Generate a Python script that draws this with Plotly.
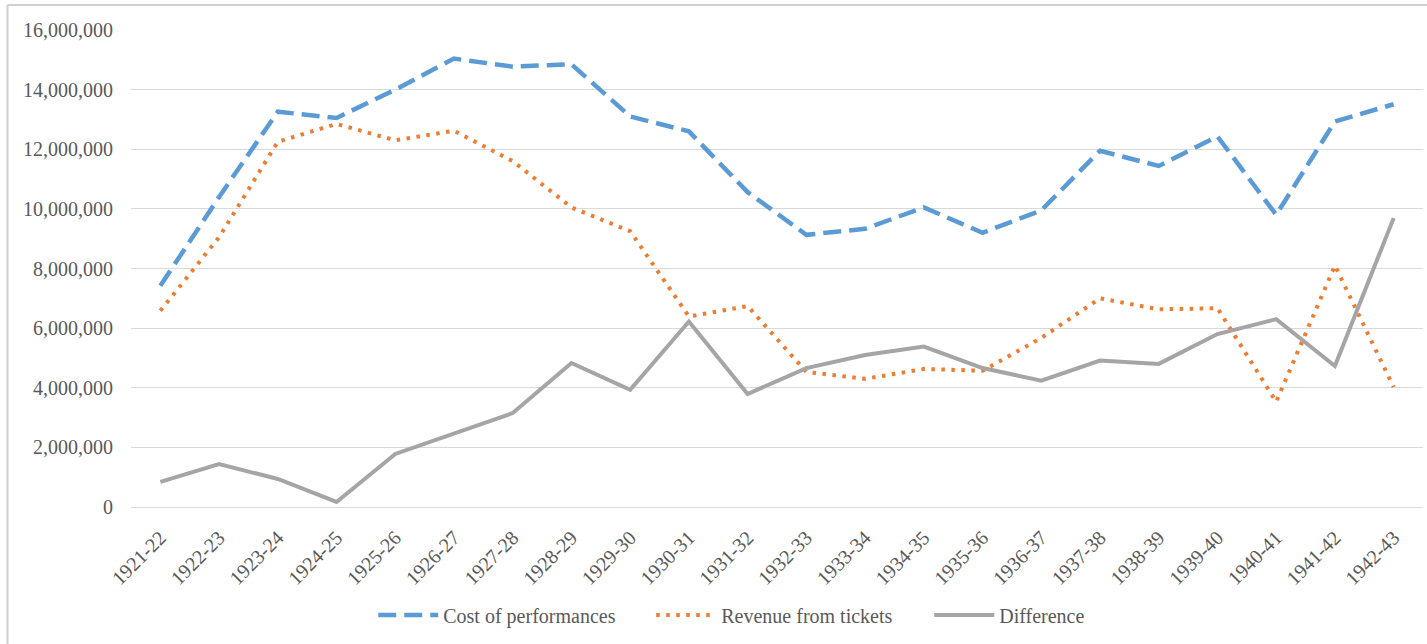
import plotly.graph_objects as go

seasons = ["1921-22", "1922-23", "1923-24", "1924-25", "1925-26", "1926-27",
           "1927-28", "1928-29", "1929-30", "1930-31", "1931-32", "1932-33",
           "1933-34", "1934-35", "1935-36", "1936-37", "1937-38", "1938-39",
           "1939-40", "1940-41", "1941-42", "1942-43"]

cost = [7420000, 10400000, 13260000, 13050000, 14000000, 15040000,
        14770000, 14850000, 13100000, 12600000, 10560000, 9130000,
        9330000, 10050000, 9200000, 9950000, 11950000, 11440000,
        12430000, 9800000, 12930000, 13510000]

revenue = [6580000, 9050000, 12250000, 12850000, 12300000, 12620000,
           11600000, 10050000, 9250000, 6390000, 6740000, 4530000,
           4300000, 4630000, 4570000, 5670000, 7000000, 6630000,
           6670000, 3530000, 8100000, 4020000]

difference = [840000, 1440000, 940000, 170000, 1780000, 2480000,
              3150000, 4830000, 3930000, 6220000, 3790000, 4660000,
              5100000, 5380000, 4660000, 4240000, 4910000, 4800000,
              5800000, 6300000, 4730000, 9690000]

y_ticks = [0, 2000000, 4000000, 6000000, 8000000, 10000000, 12000000, 14000000, 16000000]

FONT = "Liberation Serif"
TXT = "#595959"

fig = go.Figure()
fig.add_trace(go.Scatter(x=seasons, y=cost, mode="lines", name="Cost of performances",
                         line=dict(color="#5b9bd5", width=4.5, dash="18px,8px")))
fig.add_trace(go.Scatter(x=seasons, y=revenue, mode="lines", name="Revenue from tickets",
                         line=dict(color="#ed7d31", width=4, dash="3.5px,6.5px")))
fig.add_trace(go.Scatter(x=seasons, y=difference, mode="lines", name="Difference",
                         line=dict(color="#a5a5a5", width=4)))

L, R, T, B = 130.6, 3.6, 30, 137
W, H = 1427, 644
pw, ph = W - L - R, H - T - B

def px2x(p):
    return (p - L) / pw

def py2y(p):
    return (H - B - p) / ph

fig.update_layout(
    width=W, height=H,
    margin=dict(l=L, r=R, t=T, b=B, autoexpand=False),
    paper_bgcolor="white", plot_bgcolor="white",
    font=dict(family=FONT, size=20, color=TXT),
    showlegend=True,
    legend=dict(orientation="h", x=px2x(373), xanchor="left", y=py2y(615), yanchor="middle",
                itemwidth=60, entrywidth=203,
                font=dict(family=FONT, size=20, color=TXT), bgcolor="rgba(0,0,0,0)"),
    xaxis=dict(type="category", categoryorder="array", categoryarray=seasons,
               range=[-0.5, len(seasons) - 0.5], tickangle=-45, showgrid=False,
               showline=True, linecolor="#d9d9d9", linewidth=1, zeroline=False,
               ticks="", ticklabelstandoff=10,
               tickfont=dict(family=FONT, size=20, color=TXT)),
    yaxis=dict(range=[0, 16000000], tickvals=y_ticks, tickformat=",d",
               showgrid=True, gridcolor="#d9d9d9", gridwidth=1, zeroline=False,
               showline=False, ticks="", ticklabelstandoff=17,
               tickfont=dict(family=FONT, size=20, color=TXT)),
    shapes=[
        dict(type="line", xref="paper", yref="paper", x0=px2x(7), x1=px2x(1430),
             y0=py2y(5), y1=py2y(5), line=dict(color="#d0d0d0", width=2)),
        dict(type="line", xref="paper", yref="paper", x0=px2x(7), x1=px2x(7),
             y0=py2y(5), y1=py2y(650), line=dict(color="#d0d0d0", width=2)),
    ],
)

fig.write_html("out.html", config={"displayModeBar": False},
               post_script="document.body.style.margin='0';document.body.style.overflow='hidden';")
